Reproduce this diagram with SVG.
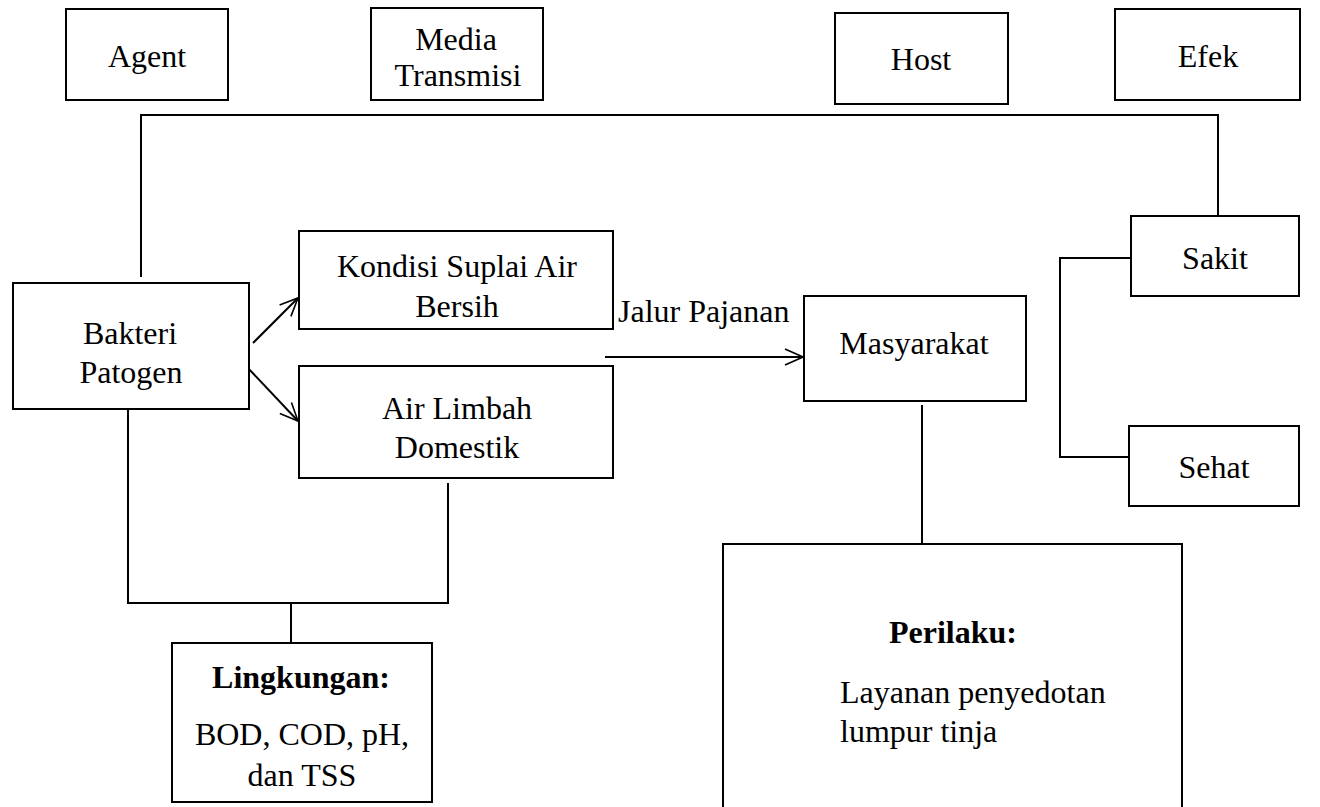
<svg xmlns="http://www.w3.org/2000/svg" width="1320" height="807" viewBox="0 0 1320 807">
<defs>
<marker id="arr" viewBox="0 0 20 20" refX="19" refY="10" markerWidth="20" markerHeight="20" markerUnits="userSpaceOnUse" orient="auto">
<path d="M1,2 L19,10 L1,18" fill="none" stroke="#000" stroke-width="1.6"/>
</marker>
<style>
.b{fill:#fff;stroke:#000;stroke-width:2}
.t{font-family:'Liberation Serif','Times New Roman',serif;font-size:32px;fill:#000;text-anchor:middle}
.tl{font-family:'Liberation Serif','Times New Roman',serif;font-size:32px;fill:#000}
.bold{font-weight:bold}
.c{fill:none;stroke:#000;stroke-width:2}
</style>
</defs>
<rect width="1320" height="807" fill="#fff"/>
<g id="connectors">
<polyline class="c" points="141,277 141,115 1218,115 1218,216"/>
<polyline class="c" points="1131,258 1060,258 1060,457 1133,457"/>
<polyline class="c" points="128,409 128,603 448,603 448,483"/>
<line class="c" x1="291" y1="603" x2="291" y2="643"/>
<line class="c" x1="922" y1="405" x2="922" y2="544"/>
<line class="c" x1="253" y1="343" x2="298" y2="298" marker-end="url(#arr)"/>
<line class="c" x1="247" y1="367" x2="298" y2="421" marker-end="url(#arr)"/>
<line class="c" x1="605" y1="357" x2="803" y2="357" marker-end="url(#arr)"/>
<text class="tl" x="618" y="322">Jalur Pajanan</text>
</g>
<g id="agent"><rect class="b" x="66" y="9" width="162" height="91"/><text class="t" x="147" y="67">Agent</text></g>
<g id="media"><rect class="b" x="371" y="8" width="172" height="92"/><text class="t" x="456" y="50">Media</text><text class="t" x="458" y="86">Transmisi</text></g>
<g id="host"><rect class="b" x="835" y="13" width="173" height="91"/><text class="t" x="921" y="70">Host</text></g>
<g id="efek"><rect class="b" x="1115" y="9" width="185" height="91"/><text class="t" x="1208" y="67">Efek</text></g>
<g id="bakteri"><rect class="b" x="13" y="283" width="236" height="126"/><text class="t" x="130" y="344">Bakteri</text><text class="t" x="131" y="383">Patogen</text></g>
<g id="kondisi"><rect class="b" x="299" y="231" width="314" height="98"/><text class="t" x="457" y="277">Kondisi Suplai Air</text><text class="t" x="457" y="317">Bersih</text></g>
<g id="airlimbah"><rect class="b" x="299" y="366" width="314" height="112"/><text class="t" x="457" y="419">Air Limbah</text><text class="t" x="457" y="458">Domestik</text></g>
<g id="masyarakat"><rect class="b" x="804" y="296" width="222" height="105"/><text class="t" x="914" y="354">Masyarakat</text></g>
<g id="sakit"><rect class="b" x="1131" y="216" width="168" height="80"/><text class="t" x="1215" y="269">Sakit</text></g>
<g id="sehat"><rect class="b" x="1129" y="426" width="170" height="80"/><text class="t" x="1214" y="478">Sehat</text></g>
<g id="lingkungan"><rect class="b" x="172" y="643" width="260" height="159"/><text class="t bold" x="301" y="688">Lingkungan:</text><text class="t" x="302" y="745">BOD, COD, pH,</text><text class="t" x="302" y="786">dan TSS</text></g>
<g id="perilaku"><rect class="b" x="723" y="544" width="459" height="270"/><text class="tl bold" x="889" y="643">Perilaku:</text><text class="tl" x="840" y="703">Layanan penyedotan</text><text class="tl" x="840" y="742">lumpur tinja</text></g>
</svg>
